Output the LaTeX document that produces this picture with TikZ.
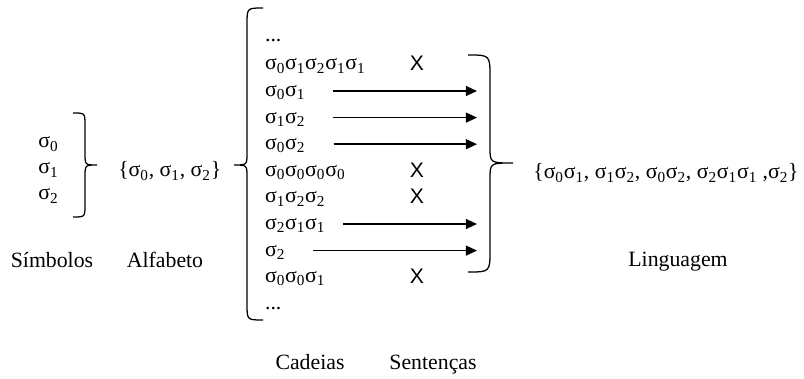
\documentclass[tikz,border=0pt]{standalone}
\usepackage{fontspec}
\setmainfont{Liberation Serif}
\newfontfamily\xfont{Liberation Sans}
\usetikzlibrary{arrows.meta}
\newcommand{\sg}[1]{σ\textsubscript{#1}}

\begin{document}
\begin{tikzpicture}[
	every node/.style={inner sep=0pt, font=\fontsize{15.5}{18}\selectfont},
	word/.style={anchor=base west},
	title/.style={anchor=base},
	cross/.style={anchor=base, font=\xfont\fontsize{15}{18}\selectfont},
	arr/.style={-{Triangle[length=0.28cm,width=0.25cm]}, line width=1.1pt},
	brace/.style={line width=0.9pt}
	]
	\useasboundingbox (0,0) rectangle (20.1,9.475);

	% Symbols
	\node[word] (s0) at (0.95,5.775) {\sg0};
	\node[word] (s1) at (0.95,5.125) {\sg1};
	\node[word] (s2) at (0.95,4.475) {\sg2};
	\draw[brace] (1.825,6.65) .. controls (2.125,6.65) .. (2.125,6.35) -- (2.125,5.65) .. controls (2.125,5.35) .. (2.425,5.35) .. controls (2.125,5.35) .. (2.125,5.05) -- (2.125,4.35) .. controls (2.125,4.05) .. (1.825,4.05);

	% Alphabet
	\node[word] (alf) at (2.95,5.05) {\{\sg0, \sg1, \sg2\}};
	\draw[brace] (6.575,9.275) .. controls (6.175,9.275) .. (6.175,8.875) -- (6.175,5.65) .. controls (6.175,5.35) .. (5.85,5.35) .. controls (6.175,5.35) .. (6.175,5.05) -- (6.175,1.875) .. controls (6.175,1.475) .. (6.575,1.475);

	% Chains
	\node[word] (r0) at (6.62,8.425) {...};
	\node[word] (r1) at (6.62,7.725) {\sg0\sg1\sg2\sg1\sg1};
	\node[word] (r2) at (6.62,7.06) {\sg0\sg1};
	\node[word] (r3) at (6.62,6.395) {\sg1\sg2};
	\node[word] (r4) at (6.62,5.73) {\sg0\sg2};
	\node[word] (r5) at (6.62,5.065) {\sg0\sg0\sg0\sg0};
	\node[word] (r6) at (6.62,4.40) {\sg1\sg2\sg2};
	\node[word] (r7) at (6.62,3.735) {\sg2\sg1\sg1};
	\node[word] (r8) at (6.62,3.07) {\sg2};
	\node[word] (r9) at (6.62,2.405) {\sg0\sg0\sg1};
	\node[word] (r10) at (6.62,1.74) {...};

	% Rejected chains
	\node[cross] (x1) at (10.425,7.7) {X};
	\node[cross] (x5) at (10.425,5.04) {X};
	\node[cross] (x6) at (10.425,4.375) {X};
	\node[cross] (x9) at (10.425,2.38) {X};

	% Sentences
	\coordinate (e2) at (11.925,7.2);
	\coordinate (e3) at (11.925,6.535);
	\coordinate (e4) at (11.925,5.87);
	\coordinate (e7) at (11.925,3.875);
	\coordinate (e8) at (11.925,3.21);
	\draw[arr, shorten <=0.68cm] (r2.east |- e2) -- (e2);
	\draw[arr, shorten <=0.68cm] (r3.east |- e3) -- (e3);
	\draw[arr, shorten <=0.7cm] (r4.east |- e4) -- (e4);
	\draw[arr, shorten <=0.44cm] (r7.east |- e7) -- (e7);
	\draw[arr, shorten <=0.7cm] (r8.east |- e8) -- (e8);

	% Language
	\draw[brace] (11.7,8.1) .. controls (12.25,8.1) .. (12.25,7.55) -- (12.25,5.8) .. controls (12.25,5.4) .. (12.825,5.4) .. controls (12.25,5.4) .. (12.25,5.0) -- (12.25,3.225) .. controls (12.25,2.675) .. (11.7,2.675);
	\node[word] (lang) at (13.325,5.0) {\{\sg0\sg1, \sg1\sg2, \sg0\sg2, \sg2\sg1\sg1 ,\sg2\}};

	% Titles
	\node[title] (tsym) at (1.3,2.775) {Símbolos};
	\node[title] (talf) at (4.125,2.775) {Alfabeto};
	\node[title] (tcad) at (7.75,0.225) {Cadeias};
	\node[title] (tsen) at (10.825,0.225) {Sentenças};
	\node[title] (tlang) at (16.95,2.8) {Linguagem};
\end{tikzpicture}
\end{document}
